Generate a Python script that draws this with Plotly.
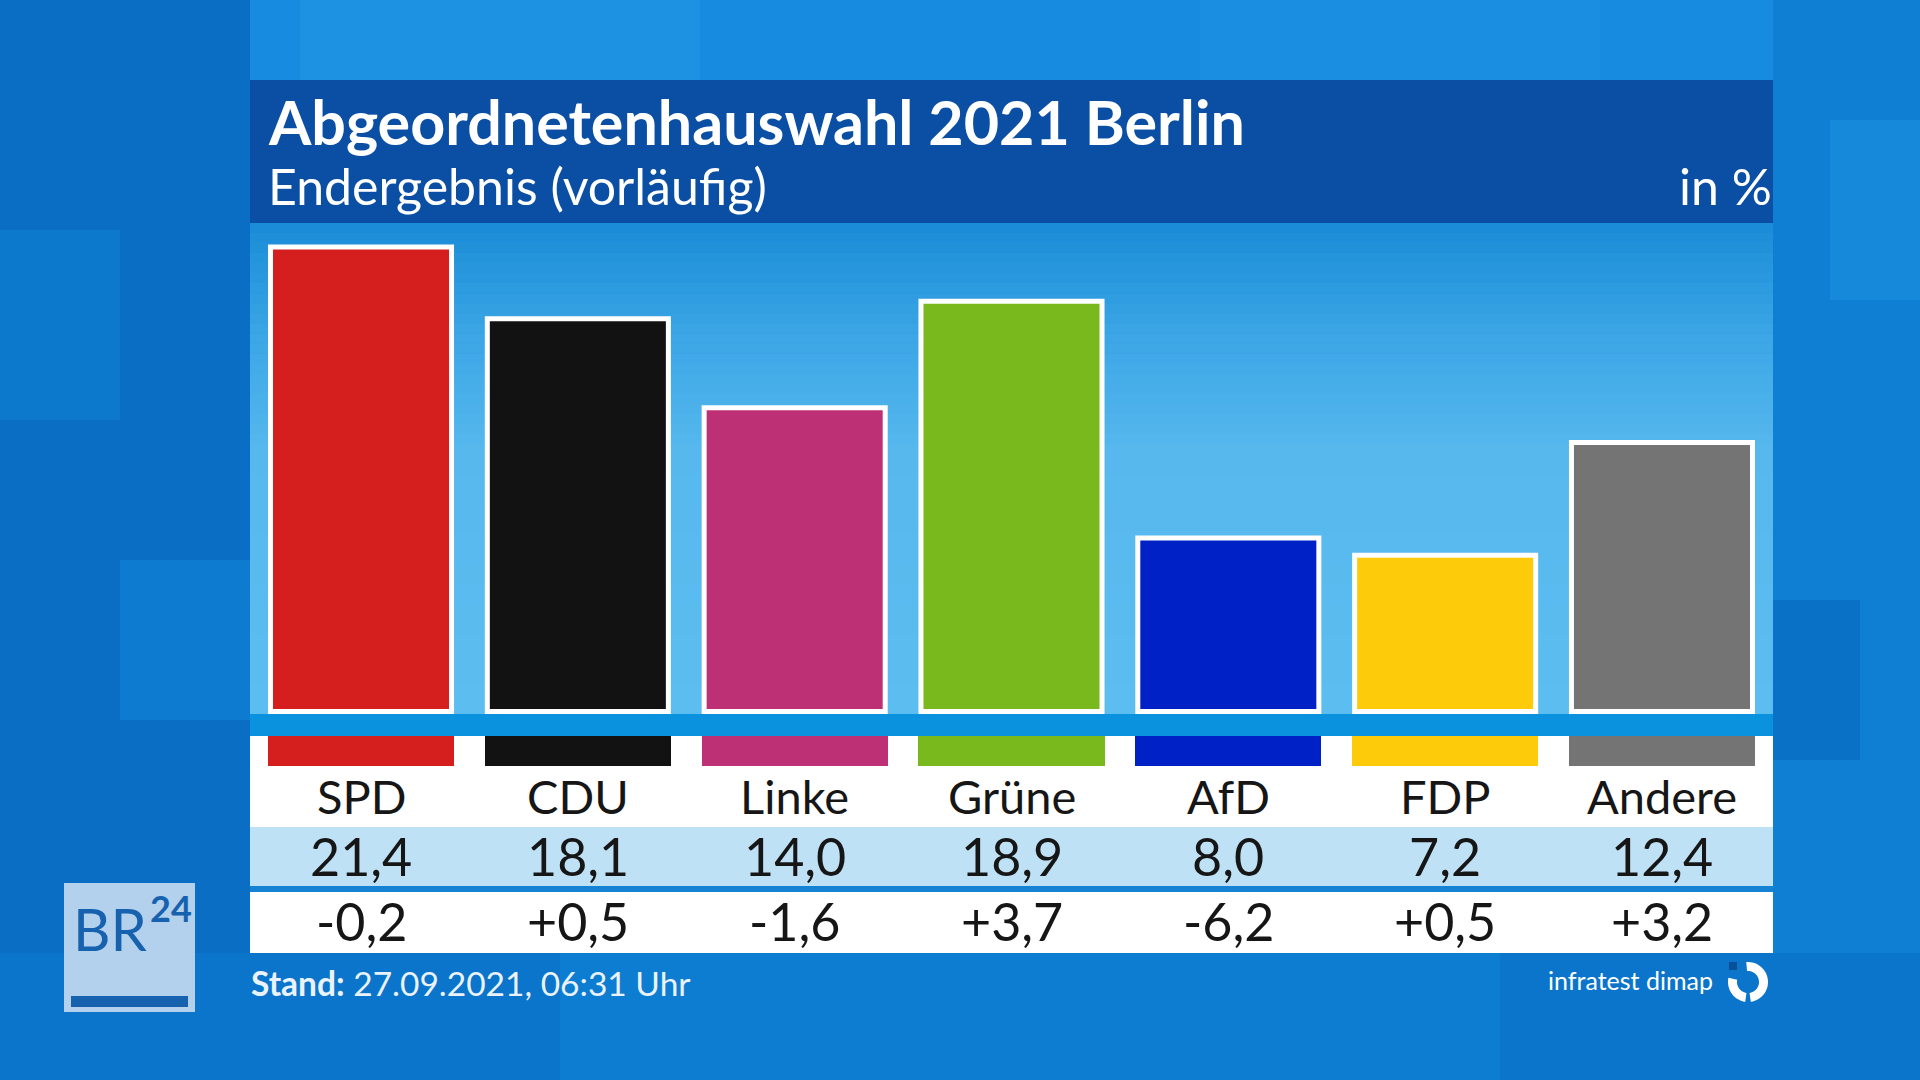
import plotly.graph_objects as go
import math

# ---------------- data ----------------
parties = ["SPD", "CDU", "Linke", "Grüne", "AfD", "FDP", "Andere"]
shares = [21.4, 18.1, 14.0, 18.9, 8.0, 7.2, 12.4]
changes = [-0.2, 0.5, -1.6, 3.7, -6.2, 0.5, 3.2]
party_colors = ["#d51f1f", "#121212", "#be3076", "#79b91e", "#0021c6", "#fecb0b", "#747474"]
strip_value = [1] * len(parties)

title = "Abgeordnetenhauswahl 2021 Berlin"
subtitle = "Endergebnis (vorläufig)"
unit = "in %"
stand = "<b>Stand:</b> 27.09.2021, 06:31 Uhr"
source = "infratest dimap"

FONT = "Lato"
W, H = 1920, 1080
L, R, T, B = 250, 1773, 223, 953      # plot area in pixels
BAR_BOTTOM = 714
PXU = 21.7                            # pixels per percentage point


def px(x):
    return (x - L) / (R - L)


def py(y):
    return (B - y) / (B - T)


def fmt(v, sign=False):
    s = f"{v:+.1f}" if sign else f"{v:.1f}"
    return s.replace(".", ",")


def hexmix(c1, c2, t):
    a = [int(c1[i:i + 2], 16) for i in (1, 3, 5)]
    b = [int(c2[i:i + 2], 16) for i in (1, 3, 5)]
    return "#" + "".join(f"{round(a[k] + (b[k] - a[k]) * t):02x}" for k in range(3))


fig = go.Figure()

fig.add_trace(go.Bar(
    x=parties, y=shares, marker=dict(color=party_colors, line=dict(color="white", width=5)),
    width=0.835, xaxis="x", yaxis="y", hoverinfo="skip", showlegend=False,
))
fig.add_trace(go.Bar(
    x=parties, y=strip_value, marker=dict(color=party_colors, line=dict(width=0)),
    width=0.858, xaxis="x", yaxis="y2", hoverinfo="skip", showlegend=False,
))

shapes = []


def rect(x0, y0, x1, y1, color, layer="below", opacity=1.0):
    shapes.append(dict(type="rect", xref="paper", yref="paper", x0=px(x0), x1=px(x1),
                       y0=py(y1), y1=py(y0), fillcolor=color, line=dict(width=0),
                       layer=layer, opacity=opacity))


# background variation (mosaic-like)
rect(0, 0, W, 80, "#178be0")
rect(0, 0, 250, H, "#0a6fc4")
rect(1773, 0, W, H, "#0f7fd4")
rect(0, 953, W, H, "#0b74cb")
rect(560, 953, 1500, H, "#0d7dd2")
rect(0, 230, 120, 420, "#0c79cc")
rect(120, 560, 250, 720, "#0d7bd0")
rect(1830, 120, W, 300, "#1689db")
rect(1773, 600, 1860, 760, "#0a72c6")
rect(300, 0, 700, 80, "#1d92e3")
rect(1200, 0, 1600, 80, "#1a8ee1")

# title band
rect(L, 80, R, T, "#0b4fa4")

# chart area gradient
stops = [(223, "#1a8bd6"), (330, "#3aa5e5"), (450, "#56b8ed"), (714, "#5cbdf0")]
n = 49
step = (BAR_BOTTOM - T) / n
for i in range(n):
    yy = T + i * step + step / 2
    for (ya, ca), (yb, cb) in zip(stops[:-1], stops[1:]):
        if ya <= yy <= yb:
            col = hexmix(ca, cb, (yy - ya) / (yb - ya))
            break
    rect(L, T + i * step, R, T + (i + 1) * step + 0.6, col)

# strip under bars and table rows
rect(L, 714, R, 736, "#0b92df")
rect(L, 736, R, 827, "#ffffff")
rect(L, 827, R, 886, "#bfe1f6")
rect(L, 886, R, 892, "#1682d3")
rect(L, 892, R, 953, "#ffffff")

# BR24 logo
rect(64, 883, 195, 1012, "#b3d0ec")
rect(71, 996, 188, 1007, "#1662ae")


def arc(cx, cy, r1, r2, a0, a1, steps=30):
    pts = []
    for k in range(steps + 1):
        a = math.radians(a0 + (a1 - a0) * k / steps)
        pts.append((cx + r2 * math.cos(a), cy - r2 * math.sin(a)))
    for k in range(steps, -1, -1):
        a = math.radians(a0 + (a1 - a0) * k / steps)
        pts.append((cx + r1 * math.cos(a), cy - r1 * math.sin(a)))
    d = "M " + " L ".join(f"{px(x):.5f},{py(y):.5f}" for x, y in pts) + " Z"
    return dict(type="path", xref="paper", yref="paper", path=d, fillcolor="white",
                line=dict(width=0), layer="above")


# infratest dimap ring logo
shapes.append(arc(1748, 982, 11, 20, 95, -82))
shapes.append(arc(1748, 982, 11, 20, -98, -192))
rect(1729, 962, 1737, 970, "#0a4f9a", layer="above")

annotations = []


def text(x, y, s, size, color, anchor="left", xref="paper", pad=1):
    annotations.append(dict(
        x=px(x) if xref == "paper" else x, y=py(y), xref=xref, yref="paper", text=s,
        showarrow=False, xanchor=anchor, yanchor="middle", borderpad=pad,
        font=dict(family=FONT, size=size, color=color)))


text(266, 121, f"<b>{title}</b>", 61, "white")
text(266, 186, subtitle, 50, "white")
text(1774, 186, unit, 50, "white", anchor="right")

for p, v, c in zip(parties, shares, changes):
    text(p, 796, p, 47, "#161616", anchor="center", xref="x")
    text(p, 856, fmt(v), 52, "#161616", anchor="center", xref="x")
    text(p, 921, fmt(c, sign=True), 52, "#161616", anchor="center", xref="x")

text(249, 983, stand, 33.5, "#eaf3fb")
text(1715, 980, source, 25, "white", anchor="right")

# BR24 logo text (kept side by side, no overlap)
text(72, 928, "BR", 58, "#1662ae", pad=0)
text(149, 908, "<b>24</b>", 36, "#1662ae", pad=0)

fig.update_layout(
    width=W, height=H, autosize=False,
    margin=dict(l=L, r=W - R, t=T, b=H - B, pad=0),
    paper_bgcolor="#0c7bd1", plot_bgcolor="rgba(0,0,0,0)",
    barmode="overlay", bargap=0,
    shapes=shapes, annotations=annotations,
    xaxis=dict(range=[-0.512, 6.512], visible=False, fixedrange=True),
    yaxis=dict(domain=[py(BAR_BOTTOM), 1],
               range=[-(BAR_BOTTOM - 711.5) / PXU, (711.5 - T) / PXU],
               visible=False, fixedrange=True),
    yaxis2=dict(domain=[py(766), py(736)], range=[0, 1], visible=False, fixedrange=True),
    font=dict(family=FONT),
)

fig.write_html("out.html", include_plotlyjs=True, full_html=True,
               config=dict(displayModeBar=False, staticPlot=True),
               post_script="document.body.style.margin='0';document.body.style.overflow='hidden';")
